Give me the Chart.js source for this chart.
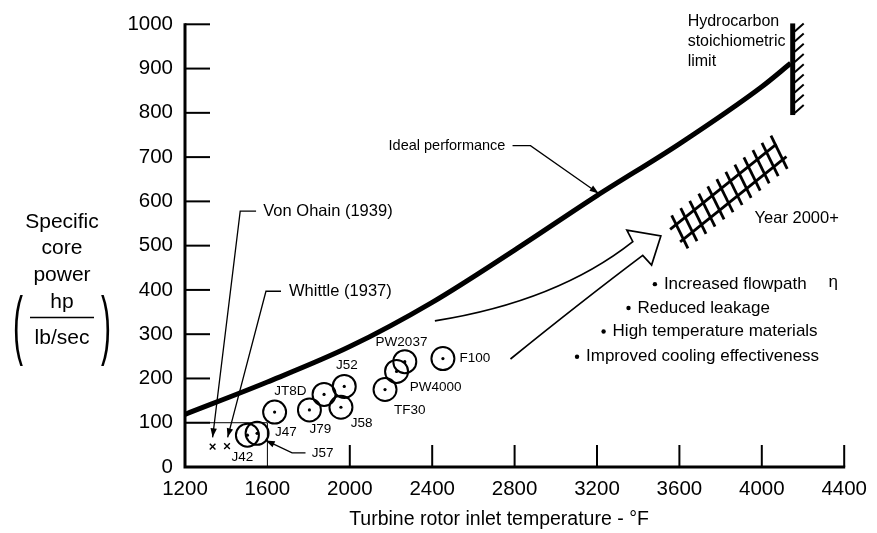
<!DOCTYPE html>
<html><head><meta charset="utf-8">
<script src="https://cdn.jsdelivr.net/npm/chart.js@4/dist/chart.umd.min.js"></script>
<style>html,body{margin:0;padding:0;background:#fff}#wrap{width:877px;height:533px;position:relative}</style>
</head><body><div id="wrap"><canvas id="c"></canvas></div>
<script>
// ---- data ----
const xTickValues = [1200,1600,2000,2400,2800,3200,3600,4000,4400];
const yTickValues = [0,100,200,300,400,500,600,700,800,900,1000];
const idealT = [1200,1600,2000,2400,2800,3200,3600,4000,4140];
const idealP = [119,192,272,372,490,613,730,859,912];
const engineNames = ['J42','J57','J47','J79','JT8D','J52','J58','TF30','PW4000','PW2037','F100'];
const engineT = [1503,1550,1635,1804,1875,1973,1957,2171,2227,2267,2452];
const engineP = [72,76,124,129,164,182,135,175,216,238,245];
const pioneerNames = ['Von Ohain (1939)','Whittle (1937)'];
const pioneerT = [1334,1404];
const pioneerP = [46,47];
const limitT = 4150;
const limitP = [795,1002];
const bandT = [3602,4084];
const bandP = [531,711];
const bullets = ['Increased flowpath','Reduced leakage','High temperature materials','Improved cooling effectiveness'];

// ---- annotation placement (data coordinates) ----
const engineLabels = {
  J42:{t:1479,p:23,a:'center'}, J57:{t:1815,p:31,a:'left'}, J47:{t:1637,p:78,a:'left'},
  J79:{t:1857,p:85,a:'center'}, JT8D:{t:1712,p:170,a:'center'}, J52:{t:1986,p:230,a:'center'},
  J58:{t:2058,p:98,a:'center'}, TF30:{t:2291,p:128,a:'center'}, PW4000:{t:2291,p:180,a:'left'},
  PW2037:{t:2251,p:281,a:'center'}, F100:{t:2533,p:246,a:'left'}
};
const bulletT = [3481,3353,3232,3103];
const bulletP = [413,359,306,249];

const FONT = '"Liberation Sans", Arial, Helvetica, sans-serif';
Chart.defaults.font.family = FONT;
Chart.defaults.color = '#000';

const overlay = {
  id:'overlay',
  beforeDatasetsDraw(chart){
    const ctx = chart.ctx, xs = chart.scales.x, ys = chart.scales.y;
    const X = v => xs.getPixelForValue(v), Y = v => ys.getPixelForValue(v);
    ctx.save();
    ctx.strokeStyle = '#000'; ctx.lineCap = 'butt';
    ctx.lineWidth = 3;
    ctx.beginPath(); ctx.moveTo(X(1200), Y(1000)-1); ctx.lineTo(X(1200), Y(0)); ctx.lineTo(X(4400)+1, Y(0)); ctx.stroke();
    ctx.lineWidth = 2;
    yTickValues.forEach(v => { if (v === 0) return; ctx.beginPath(); ctx.moveTo(X(1200), Y(v)); ctx.lineTo(X(1200)+25, Y(v)); ctx.stroke(); });
    xTickValues.forEach(v => { if (v <= 1600) return; ctx.beginPath(); ctx.moveTo(X(v), Y(0)); ctx.lineTo(X(v), Y(0)-22); ctx.stroke(); });
    ctx.lineWidth = 1;
    ctx.beginPath(); ctx.moveTo(X(1200), Y(100)); ctx.lineTo(X(1600), Y(100)); ctx.lineTo(X(1600), Y(0)); ctx.stroke();
    ctx.restore();
  },
  afterDatasetsDraw(chart){
    const ctx = chart.ctx, xs = chart.scales.x, ys = chart.scales.y;
    const X = v => xs.getPixelForValue(v), Y = v => ys.getPixelForValue(v);
    const P = (t,p) => [X(t), Y(p)];
    ctx.save();
    ctx.strokeStyle = '#000'; ctx.fillStyle = '#000';

    // stoichiometric limit bar
    const lx = X(limitT);
    ctx.lineWidth = 5;
    ctx.beginPath(); ctx.moveTo(lx, Y(limitP[1])); ctx.lineTo(lx, Y(limitP[0])); ctx.stroke();
    ctx.lineWidth = 2;
    for (let y = Y(limitP[1]) + 8; y <= Y(limitP[0]) - 2; y += 10.2) {
      ctx.beginPath(); ctx.moveTo(lx+2, y); ctx.lineTo(lx+11, y-8); ctx.stroke();
    }

    // Year 2000+ hatched band
    const A = P(bandT[0], bandP[0]), B = P(bandT[1], bandP[1]);
    const dx = B[0]-A[0], dy = B[1]-A[1], L = Math.hypot(dx,dy);
    const ux = dx/L, uy = dy/L, nx = -uy, ny = ux;
    ctx.lineWidth = 2.8;
    [-8, 8].forEach(o => {
      ctx.beginPath();
      ctx.moveTo(A[0]+nx*o-ux*6, A[1]+ny*o-uy*6);
      ctx.lineTo(B[0]+nx*o+ux*3, B[1]+ny*o+uy*3);
      ctx.stroke();
    });
    const nCross = 12;
    for (let i = 0; i < nCross; i++) {
      const s = i*(L/(nCross-1));
      const cx = A[0]+ux*s, cy = A[1]+uy*s;
      ctx.beginPath();
      ctx.moveTo(cx - nx*18 + ux*4, cy - ny*18 + uy*4);
      ctx.lineTo(cx + nx*18 - ux*4, cy + ny*18 - uy*4);
      ctx.stroke();
    }

    // hollow arrow
    ctx.lineWidth = 1.7; ctx.lineJoin = 'miter';
    ctx.beginPath();
    ctx.moveTo(...P(2413,330));
    ctx.quadraticCurveTo(...P(3007,374), ...P(3374,509));
    ctx.lineTo(...P(3345,535));
    ctx.lineTo(...P(3510,522));
    ctx.lineTo(...P(3465,456));
    ctx.lineTo(...P(3422,478));
    ctx.quadraticCurveTo(...P(3128,375), ...P(2780,244));
    ctx.stroke();

    // leader lines with arrowheads
    function leader(pts){
      const px = pts.map(q => P(q[0], q[1]));
      ctx.lineWidth = 1.3;
      ctx.beginPath(); ctx.moveTo(px[0][0], px[0][1]);
      for (let i = 1; i < px.length; i++) ctx.lineTo(px[i][0], px[i][1]);
      ctx.stroke();
      const e = px[px.length-1], f = px[px.length-2];
      const a = Math.atan2(e[1]-f[1], e[0]-f[0]);
      const hl = 9, hw = 3.2;
      ctx.beginPath();
      ctx.moveTo(e[0], e[1]);
      ctx.lineTo(e[0]-hl*Math.cos(a)+hw*Math.sin(a), e[1]-hl*Math.sin(a)-hw*Math.cos(a));
      ctx.lineTo(e[0]-hl*Math.cos(a)-hw*Math.sin(a), e[1]-hl*Math.sin(a)+hw*Math.cos(a));
      ctx.closePath(); ctx.fill();
    }
    leader([[1545,578],[1468,578],[1334,67]]);
    leader([[1666,397],[1593,397],[1407,67]]);
    leader([[1785,32],[1720,32],[1592,60]]);
    leader([[2790,726],[2877,726],[3208,618]]);

    // texts
    ctx.textBaseline = 'middle';
    function txt(s, t, p, size, align, dxp){
      ctx.font = size + 'px ' + FONT; ctx.textAlign = align || 'left';
      ctx.fillText(s, X(t) + (dxp||0), Y(p));
    }
    txt(pioneerNames[0], 1580, 578, 16.5);
    txt(pioneerNames[1], 1705, 397, 16.5);
    txt('Ideal performance', 2770, 726, 14.5, 'right', -3);
    txt('Year 2000+', 3965, 561, 16.5);
    txt('Hydrocarbon', 3640, 1005, 16);
    txt('stoichiometric', 3640, 961, 16);
    txt('limit', 3640, 916, 16);
    engineNames.forEach(n => { const l = engineLabels[n]; txt(n, l.t, l.p, 13.5, l.a); });
    // bullet list
    bullets.forEach((b,i) => {
      ctx.beginPath(); ctx.arc(X(bulletT[i]), Y(bulletP[i]), 2.2, 0, Math.PI*2); ctx.fill();
      txt(b, bulletT[i], bulletP[i], 17, 'left', 9);
    });
    ctx.font = '17px ' + FONT; ctx.textAlign = 'left';
    ctx.fillText('\u03b7', X(bulletT[0]) + 9 + ctx.measureText(bullets[0]).width + 22, Y(bulletP[0]) - 2);

    // x-axis title
    ctx.textAlign = 'center';
    ctx.font = '19.5px ' + FONT;
    ctx.fillText('Turbine rotor inlet temperature - °F', 499, 520);

    // y-axis title with fraction
    ctx.font = '21px ' + FONT;
    ctx.fillText('Specific', 62, 222);
    ctx.fillText('core', 62, 248);
    ctx.fillText('power', 62, 275);
    ctx.fillText('hp', 62, 302);
    ctx.fillText('lb/sec', 62, 338);
    ctx.lineWidth = 1.5;
    ctx.beginPath(); ctx.moveTo(30, 317.5); ctx.lineTo(94, 317.5); ctx.stroke();
    ctx.font = '300 30px ' + FONT;
    ctx.save(); ctx.translate(18, 329); ctx.scale(1, 2.55); ctx.fillText('(', 0, 0); ctx.restore();
    ctx.save(); ctx.translate(106, 329); ctx.scale(1, 2.55); ctx.fillText(')', 0, 0); ctx.restore();

    ctx.restore();
  }
};

const chart = new Chart(document.getElementById('c'), {
  type: 'scatter',
  data: {
    datasets: [
      { type:'line', data: idealT.map((t,i)=>({x:t, y:idealP[i]})), borderColor:'#000', borderWidth:5,
        pointRadius:0, cubicInterpolationMode:'monotone', fill:false, borderCapStyle:'butt' },
      { data: engineT.map((t,i)=>({x:t, y:engineP[i]})), pointStyle:'circle', pointRadius:11.5,
        borderColor:'#000', borderWidth:2, backgroundColor:'rgba(0,0,0,0)' },
      { data: engineT.map((t,i)=>({x:t, y:engineP[i]})), pointStyle:'circle', pointRadius:1.6,
        borderWidth:0, backgroundColor:'#000' },
      { data: pioneerT.map((t,i)=>({x:t, y:pioneerP[i]})), pointStyle:'crossRot', pointRadius:4,
        borderColor:'#000', borderWidth:1.4 }
    ]
  },
  options: {
    responsive:true, maintainAspectRatio:false, animation:false,
    layout:{ padding:{ left:0, top:21, right:29, bottom:0 } },
    plugins:{ legend:{display:false}, tooltip:{enabled:false} },
    scales:{
      x:{ type:'linear', min:1200, max:4400,
          afterBuildTicks: s => { s.ticks = xTickValues.map(v=>({value:v})); },
          ticks:{ font:{size:20.5}, color:'#000', padding:10, maxRotation:0, autoSkip:false, callback: v => String(v) },
          grid:{ display:false, drawTicks:false }, border:{ display:false },
          afterFit: s => { s.height = 66; } },
      y:{ type:'linear', min:0, max:1000,
          afterBuildTicks: s => { s.ticks = yTickValues.map(v=>({value:v})); },
          ticks:{ font:{size:20.5}, color:'#000', padding:12, autoSkip:false, callback: v => String(v) },
          grid:{ display:false, drawTicks:false }, border:{ display:false },
          afterFit: s => { s.width = 185; } }
    }
  },
  plugins:[overlay]
});
</script></body></html>
